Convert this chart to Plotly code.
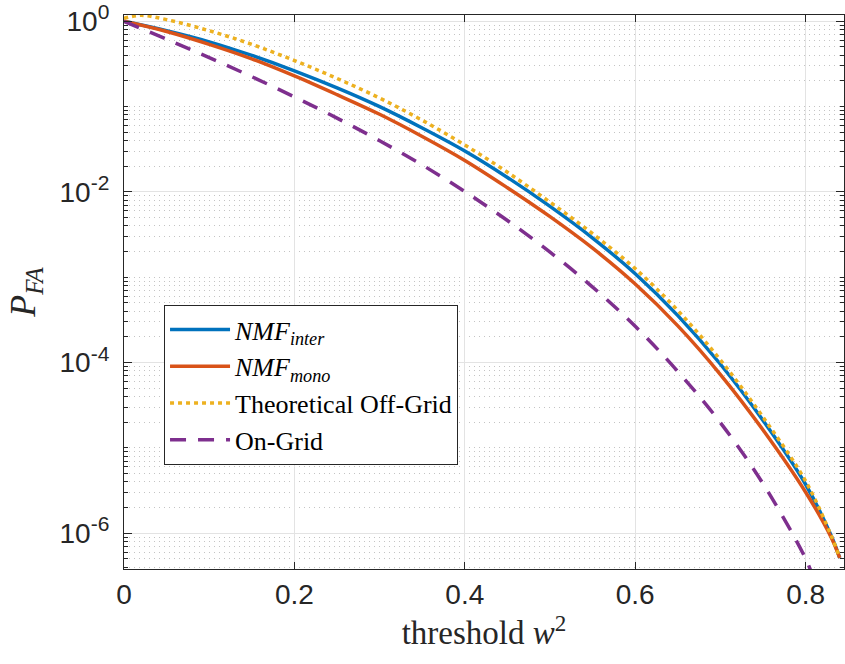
import plotly.graph_objects as go

# ---- data ----
x_inter = [0.00, 0.05, 0.10, 0.15, 0.20, 0.25, 0.30, 0.35, 0.40, 0.45, 0.50, 0.55,
           0.60, 0.65, 0.70, 0.75, 0.80, 0.83, 0.84]
p_inter = [1.0, 0.776, 0.575, 0.398, 0.263, 0.166, 0.100, 0.0562, 0.0302, 0.0148,
           6.76e-3, 2.88e-3, 1.10e-3, 3.55e-4, 9.55e-5, 2.09e-5, 3.72e-6, 9.33e-7, 5.13e-7]

x_mono = [0.00, 0.05, 0.10, 0.15, 0.20, 0.25, 0.30, 0.35, 0.40, 0.45, 0.50, 0.55,
          0.60, 0.65, 0.70, 0.75, 0.80, 0.83, 0.84]
p_mono = [1.0, 0.759, 0.537, 0.363, 0.229, 0.138, 0.0813, 0.0447, 0.0234, 0.0112,
          5.13e-3, 2.19e-3, 8.32e-4, 2.69e-4, 7.24e-5, 1.62e-5, 3.02e-6, 8.91e-7, 5.13e-7]

x_theo = [0.00, 0.02, 0.05, 0.10, 0.15, 0.20, 0.25, 0.30, 0.35, 0.40, 0.45, 0.50,
          0.55, 0.60, 0.65, 0.70, 0.75, 0.80, 0.83, 0.84]
p_theo = [1.084, 1.175, 1.047, 0.776, 0.537, 0.347, 0.214, 0.126, 0.0692, 0.0355,
          0.0170, 7.59e-3, 3.24e-3, 1.26e-3, 4.07e-4, 1.07e-4, 2.29e-5, 4.07e-6,
          9.33e-7, 5.13e-7]

x_grid = [0.00, 0.05, 0.10, 0.15, 0.20, 0.25, 0.30, 0.35, 0.40, 0.45, 0.50, 0.55,
          0.60, 0.65, 0.70, 0.75, 0.80, 0.81]
p_grid = [1.0, 0.617, 0.376, 0.224, 0.130, 0.0733, 0.0398, 0.0207, 0.0101, 4.62e-3,
          1.97e-3, 7.67e-4, 2.66e-4, 7.85e-5, 1.97e-5, 3.80e-6, 5.01e-7, 2.82e-7]

series_names = ["<i>NMF</i><sub><i>inter</i></sub>", "<i>NMF</i><sub><i>mono</i></sub>",
                "Theoretical Off-Grid", "On-Grid"]

x_tickvals = [0, 0.2, 0.4, 0.6, 0.8]
x_ticktext = ["0", "0.2", "0.4", "0.6", "0.8"]
y_tickvals = [1e-6, 1e-4, 1e-2, 1]
y_exponents = ["-6", "-4", "-2", "0"]
y_ticktext = ["10<sup><span style='font-size:21px'>%s</span></sup>" % e for e in y_exponents]
y_minor = [m * 10.0 ** k for k in range(-7, 1) for m in range(1, 10)]

# ---- figure ----
fig = go.Figure()
fig.add_trace(go.Scatter(x=x_inter, y=p_inter, mode="lines", name=series_names[0],
                         line=dict(color="#0072BD", width=3.5, shape="spline")))
fig.add_trace(go.Scatter(x=x_mono, y=p_mono, mode="lines", name=series_names[1],
                         line=dict(color="#D95319", width=3.5, shape="spline")))
fig.add_trace(go.Scatter(x=x_theo, y=p_theo, mode="lines", name=series_names[2],
                         line=dict(color="#EDB120", width=3.5, dash="4px,4px", shape="spline")))
fig.add_trace(go.Scatter(x=x_grid, y=p_grid, mode="lines", name=series_names[3],
                         line=dict(color="#7E2F8E", width=3.5, dash="16px,12px", shape="spline")))

axis_col = "#262626"
serif = "Liberation Serif, Times New Roman, serif"
fig.update_layout(
    width=845, height=664, autosize=False,
    margin=dict(l=124, r=1, t=15, b=95),
    paper_bgcolor="white", plot_bgcolor="white",
    font=dict(family="Liberation Sans, Arial, sans-serif", size=28, color=axis_col),
    legend=dict(
        x=0.0556, y=0.4765, xanchor="left", yanchor="top",
        bgcolor="white", bordercolor=axis_col, borderwidth=1,
        font=dict(family=serif, size=26, color="black"),
        tracegroupgap=0, itemwidth=60, entrywidth=285, entrywidthmode="pixels",
    ),
    showlegend=True,
)
fig.update_xaxes(
    range=[0, 0.845], tickvals=x_tickvals, ticktext=x_ticktext, automargin=False,
    ticklabelstandoff=0, ticklabeloverflow="allow",
    showline=True, linecolor=axis_col, linewidth=1, mirror="ticks",
    ticks="inside", ticklen=7, tickcolor=axis_col,
    showgrid=True, gridcolor="#e3e3e3", gridwidth=1, zeroline=False,
    title=dict(text="threshold <i>w</i><sup>2</sup>", standoff=7,
               font=dict(family=serif, size=33, color=axis_col)),
)
fig.update_yaxes(
    type="log", range=[-6.42, 0.074], tickvals=y_tickvals, ticktext=y_ticktext,
    automargin=False, ticklabelstandoff=8, ticklabeloverflow="allow",
    showline=True, linecolor=axis_col, linewidth=1, mirror="ticks",
    ticks="inside", ticklen=8, tickcolor=axis_col,
    showgrid=True, gridcolor="#e3e3e3", gridwidth=1, zeroline=False,
    minor=dict(tickvals=y_minor, ticks="inside", ticklen=4, tickcolor=axis_col,
               showgrid=True, gridcolor="#c4c4c4", griddash="1px,4px", gridwidth=1),
    title=dict(text="<i>P</i><sub><i>FA</i></sub>", standoff=12,
               font=dict(family=serif, size=36, color=axis_col)),
)

fig.write_html("out.html", config={"displayModeBar": False},
               post_script="document.body.style.margin='0';document.body.style.overflow='hidden';")
